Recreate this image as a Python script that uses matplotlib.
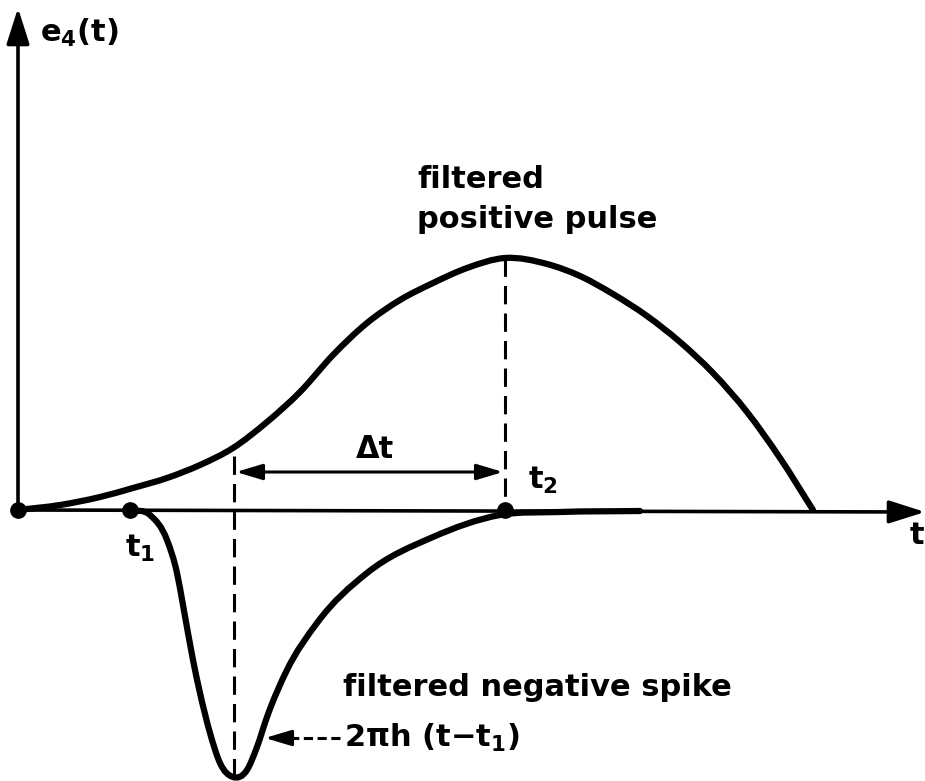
import matplotlib
matplotlib.use("Agg")
import matplotlib.pyplot as plt
import numpy as np
from matplotlib.path import Path
from matplotlib.patches import PathPatch

# Positive pulse (t, e)
pulse_t = [0, 42, 82, 115, 149, 182, 215, 249, 282, 315, 349, 382, 415, 449, 487,
           529, 562, 595, 629, 662, 695, 729, 762, 795]
pulse_e = [0, 5, 13, 22, 32, 45, 62, 88, 118, 155, 187, 210, 227, 242, 252,
           246, 234, 216, 194, 168, 137, 98, 52, 0]

# Negative spike (t, e)
spike_t = [112, 132, 149, 159, 165, 175, 182, 192, 202, 215, 229, 239, 249, 269, 299,
           349, 415, 482, 542, 622]
spike_e = [0, -5, -30, -63, -95, -150, -183, -223, -253, -267, -260, -237, -207, -160, -113,
           -63, -27, -5, -2, -1]

t1 = 112
t_min = 216
t2 = 487
e_peak = 252
e_min = -268

fig = plt.figure(figsize=(9.25, 7.81), dpi=100)
ax = fig.add_axes([0, 0, 1, 1])
ax.set_xlim(-18, 907)
ax.set_ylim(-271, 510)
ax.axis("off")

K = "black"
FS = 22


def smooth_path(xs, ys):
    """Cubic Hermite (Bezier) path through the given points, tangents from finite differences."""
    x = np.asarray(xs, float)
    y = np.asarray(ys, float)
    h = np.diff(x)
    s = np.diff(y) / h
    m = np.empty_like(x)
    m[0], m[-1] = s[0], s[-1]
    m[1:-1] = (h[1:] * s[:-1] + h[:-1] * s[1:]) / (h[:-1] + h[1:])
    verts = [(x[0], y[0])]
    codes = [Path.MOVETO]
    for i in range(len(x) - 1):
        d = h[i] / 3.0
        verts += [(x[i] + d, y[i] + m[i] * d), (x[i + 1] - d, y[i + 1] - m[i + 1] * d),
                  (x[i + 1], y[i + 1])]
        codes += [Path.CURVE4] * 3
    return Path(verts, codes)


# axes with arrows
ax.annotate("", xy=(0, 502), xytext=(0, 0),
            arrowprops=dict(arrowstyle="-|>,head_length=1.1,head_width=0.35",
                            mutation_scale=20, lw=2.6, color=K, shrinkA=0, shrinkB=0))
ax.annotate("", xy=(907, -2), xytext=(0, 0),
            arrowprops=dict(arrowstyle="-|>,head_length=1.1,head_width=0.35",
                            mutation_scale=20, lw=2.6, color=K, shrinkA=0, shrinkB=0))

# curves
for xs, ys in [(pulse_t, pulse_e), (spike_t, spike_e)]:
    ax.add_patch(PathPatch(smooth_path(xs, ys), facecolor="none", edgecolor=K,
                           lw=4.5, joinstyle="round", capstyle="round"))

# dots
ax.plot([0, t1, t2], [0, 0, 0], "o", color=K, ms=11)

# dashed verticals
ax.plot([t_min, t_min], [54, e_min], color=K, lw=2.2, dashes=(6, 3))
ax.plot([t2, t2], [e_peak, 0], color=K, lw=2.2, dashes=(6, 3))

# delta t arrow
ax.annotate("", xy=(t_min + 2, 38), xytext=(t2 - 2, 38),
            arrowprops=dict(arrowstyle="<|-|>,head_length=1.0,head_width=0.3",
                            mutation_scale=16, lw=2.2, color=K, shrinkA=0, shrinkB=0))

# labels
ax.text(22, 477, "e$_{\\mathbf{4}}$(t)", fontsize=FS, fontweight="bold", va="center", ha="left")
ax.text(107, -38, "t$_{\\mathbf{1}}$", fontsize=FS, fontweight="bold", va="center", ha="left")
ax.text(510, 30, "t$_{\\mathbf{2}}$", fontsize=FS, fontweight="bold", va="center", ha="left")
ax.text(906, -25, "t", fontsize=FS, fontweight="bold", va="center", ha="right")
ax.text(357, 60, "Δt", fontsize=FS, fontweight="bold", va="center", ha="center")
ax.text(399, 330, "filtered", fontsize=FS, fontweight="bold", va="center", ha="left")
ax.text(399, 290, "positive pulse", fontsize=FS, fontweight="bold", va="center", ha="left")
ax.text(325, -177, "filtered negative spike", fontsize=FS, fontweight="bold",
        va="center", ha="left")
ax.text(326, -228, "2πh (t−t$_{\\mathbf{1}}$)", fontsize=FS, fontweight="bold",
        va="center", ha="left")

# pointer to the spike
ax.plot([322, 262], [-228, -228], color=K, lw=2.2, dashes=(3, 1.5))
ax.annotate("", xy=(247, -228), xytext=(268, -228),
            arrowprops=dict(arrowstyle="-|>,head_length=1.0,head_width=0.3",
                            mutation_scale=16, lw=2.2, color=K, shrinkA=0, shrinkB=0))

fig.savefig("out.png", dpi=100)
